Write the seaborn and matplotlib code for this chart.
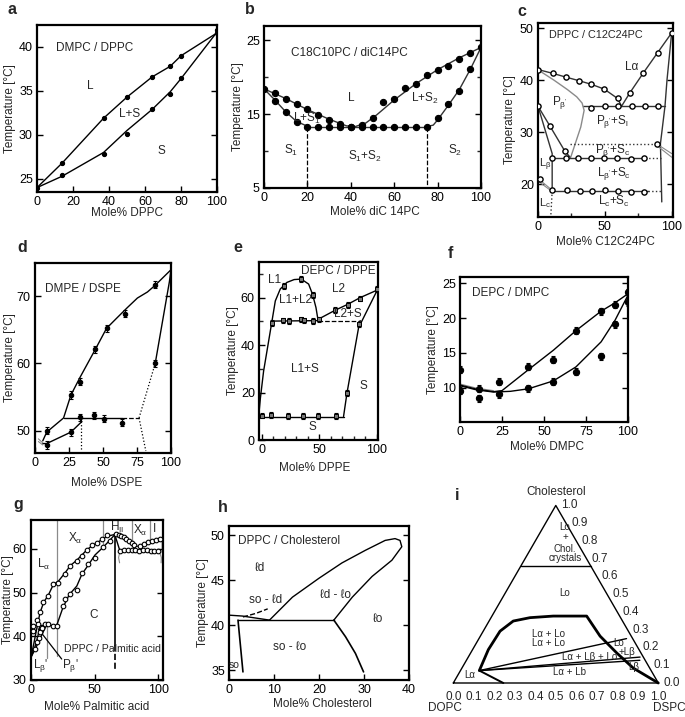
import numpy as np
import matplotlib
matplotlib.use("Agg")
import matplotlib.pyplot as plt
import seaborn as sns

# ======================= DATA =======================
# a : DMPC / DPPC
a_liq_x = [0, 14, 37, 50, 64, 74, 80, 100]
a_liq_y = [24.0, 26.8, 31.9, 34.3, 36.6, 37.8, 39.0, 41.6]
a_sol_x = [0, 14, 37, 50, 64, 74, 80, 100]
a_sol_y = [24.0, 25.4, 27.8, 30.1, 33.0, 34.7, 36.5, 41.8]
a_solc_y = [24.0, 25.3, 28.0, 30.5, 32.9, 34.9, 36.4, 41.7]

# b : C18C10PC / diC14PC
b_liq_px = [0, 5, 10, 15, 20, 25, 30, 35, 40, 45, 50, 55, 60, 65, 70, 75, 80, 85, 90, 95, 100]
b_liq_py = [18.4, 17.8, 17.0, 16.3, 15.7, 14.9, 14.2, 13.6, 13.3, 13.5, 14.5, 16.6, 17.0, 18.5,
            19.1, 20.3, 21.0, 21.5, 22.5, 23.3, 24.0]
b_liq_cx = [0, 10, 20, 30, 38, 42, 47, 52, 60, 70, 80, 90, 100]
b_liq_cy = [18.4, 17.1, 15.6, 14.3, 13.4, 13.3, 13.8, 14.9, 16.9, 19.1, 21.0, 22.6, 24.0]
b_s1_px = [5, 10, 15]
b_s1_py = [16.8, 15.3, 13.9]
b_s1_cx = [0, 5, 10, 15, 20]
b_s1_cy = [18.4, 16.9, 15.3, 14.0, 13.35]
b_flat_x = [20, 25, 30, 35, 40, 45, 50, 55, 60, 65, 70, 75]
b_flat_y = [13.3] * 12
b_s2_px = [80, 85, 90, 95]
b_s2_py = [14.5, 16.3, 18.1, 21.1]
b_s2_cx = [75, 78, 80, 85, 90, 95, 100]
b_s2_cy = [13.3, 13.5, 14.2, 16.2, 18.3, 21.0, 24.0]

# c : DPPC / C12C24PC
c_la_px = [0, 11.3, 20.8, 30.8, 40, 49.5, 59.5]
c_la_py = [42.05, 41.3, 40.6, 39.9, 39.2, 38.3, 36.5]
c_lr_px = [68.8, 78.8, 89.5, 100]
c_lr_py = [37.6, 41.4, 45.3, 49.1]
c_h35_x = [40, 50, 60, 70, 80, 90]
c_h35_y = [34.6, 35.0, 35.0, 35.0, 35.0, 35.0]
c_left_px = [0, 8.9, 20.0]
c_left_py = [35.0, 31.2, 26.4]
c_h25_x = [10.6, 21, 29.9, 39.7, 49.6, 59.4, 69.3, 79.1]
c_h25_y = [25.1, 25.1, 25.1, 25.1, 25.1, 25.1, 24.8, 25.1]
c_h18_x = [1.5, 10.6, 21.5, 31.4, 40.6, 49.9, 59.7, 69.6, 79.5]
c_h18_y = [21.1, 18.85, 18.85, 18.7, 18.7, 18.85, 18.7, 18.5, 18.5]
c_h27_x = [89.1]
c_h27_y = [27.7]

# d : DMPE / DSPE
d_up_x = [8.6, 26.4, 33.3, 44.4, 52.6, 66.0, 88.4]
d_up_y = [50.0, 55.3, 57.3, 62.1, 65.2, 67.4, 71.7]
d_lo_x = [8.6, 26.4]
d_lo_y = [47.9, 49.75]
d_h_x = [33.0, 43.2, 50.6, 64.2]
d_h_y = [52.0, 52.3, 51.8, 51.2]
d_r_x = [88.4]
d_r_y = [60.0]

# e : DEPC / DPPE
e_dome_x = [18.8, 34.2, 44.0]
e_dome_y = [65.0, 67.8, 61.2]
e_h50_x = [8.7, 18.0, 23.2, 34.2, 36.2, 44.0, 49.3]
e_h50_y = [49.4, 50.4, 50.1, 50.8, 50.4, 50.1, 50.8]
e_l2_x = [63.8, 74.8, 85.5, 100]
e_l2_y = [54.9, 56.9, 59.6, 63.5]
e_s_x = [74.0, 84.6]
e_s_y = [19.8, 48.7]
e_h10_x = [0, 8, 23, 36, 49, 64]
e_h10_y = [10.3, 10.5, 10.2, 10.2, 10.0, 10.0]

# f : DEPC / DMPC
f_x = [0, 11.5, 23.4, 40.7, 55.6, 69.0, 84.0, 92.3, 100]
f_up_y = [12.6, 9.9, 10.9, 13.0, 14.0, 18.2, 21.0, 21.9, 23.75]
f_lo_y = [9.6, 8.5, 9.1, 9.95, 10.9, 12.3, 14.5, 19.1, 22.3]
f_cu_x = [0, 10, 20, 25, 40.7, 55.6, 69, 84, 92.3, 100]
f_cu_y = [10.4, 9.8, 9.45, 9.6, 12.6, 15.4, 18.2, 21.0, 22.2, 23.5]
f_cl_x = [0, 10, 20, 30, 40.7, 55.6, 69, 84, 92.3, 100]
f_cl_y = [10.3, 9.7, 9.4, 9.5, 9.86, 11.0, 13.0, 16.6, 19.7, 23.3]

# g : DPPC / Palmitic acid
g_liq_px = [1.8, 4.5, 7.1, 9.7, 13.6, 17.5, 21.5, 26.7, 30.6, 35.9, 39.8, 43.7, 47.7, 51.6, 55.5, 59.5]
g_liq_py = [41.3, 43.8, 45.6, 47.8, 49.2, 52.0, 52.1, 54.3, 56.1, 57.3, 58.3, 59.7, 60.8, 61.3, 62.2, 63.1]
g_liq_cx = [0, 2, 4, 7, 10, 13.6, 17.5, 21.5, 27, 31, 36, 40, 44, 48, 52, 56, 60, 66]
g_liq_cy = [35.2, 38, 41, 45.3, 47.8, 49.4, 51.8, 52.6, 54.6, 56.2, 57.4, 58.6, 59.8, 60.7, 61.4, 62.2, 62.9, 63.3]
g_sol_px = [25.4, 26.7, 30.6, 35.9, 39.8, 45.0, 50.3, 56.8, 62.0]
g_sol_py = [47.0, 48.6, 49.6, 50.6, 54.4, 56.5, 57.8, 60.4, 61.8]
g_sol_cx = [20.2, 25, 30, 36, 40, 45, 50.3, 56.8, 62, 66]
g_sol_cy = [42.5, 46.5, 49.5, 51.5, 54.2, 56.3, 58.6, 60.4, 62.0, 63.3]
g_h42_x = [1.8, 5.7, 11.0, 13.1, 17.5, 20.2]
g_h42_y = [42.4, 42.7, 42.7, 42.7, 42.4, 42.4]
g_ll_x = [3.1, 4.5, 6.3, 7.1, 9.0]
g_ll_y = [37.0, 38.8, 39.7, 41.0, 42.0]
g_hu_x = [67, 69, 71, 73, 75, 77, 79, 81, 83, 86, 89, 92, 95, 98, 101]
g_hu_y = [63.4, 63.2, 62.9, 62.6, 62.2, 61.8, 61.4, 60.8, 60.3, 60.7, 61.1, 61.5, 61.9, 62.1, 62.2]
g_hl_x = [70, 73, 76, 79, 82, 85, 88, 91, 94, 97, 100]
g_hl_y = [59.6, 59.8, 59.8, 59.7, 59.8, 59.6, 59.8, 59.7, 59.5, 59.5, 59.4]

# h : DPPC / Cholesterol
h_loop_x = [9, 14.1, 20, 25.1, 30.3, 34.7, 36.9, 38.0, 38.4, 36.2, 31.8, 27.4, 23.3]
h_loop_y = [40.55, 43.1, 45.2, 46.9, 48.3, 49.4, 49.6, 49.4, 48.7, 47.2, 45.4, 43.1, 40.55]
h_lo_x = [23.3, 25.9, 28.1, 29.9]
h_lo_y = [40.55, 38.7, 36.85, 34.8]

# i : DOPC / DSPC / Cholesterol (ternary, DSPC fraction b, cholesterol fraction c)
i_bnd_b = [0.092, 0.077, 0.082, 0.118, 0.190, 0.299, 0.462, 0.584, 0.713, 0.836, 1.0]
i_bnd_c = [0.070, 0.188, 0.292, 0.349, 0.368, 0.377, 0.377, 0.264, 0.169, 0.084, 0.0]
i_la = (0.092, 0.070)
i_tie_b = [0.72, 0.838, 0.846]
i_tie_c = [0.25, 0.146, 0.128]
i_chol_crys = 0.66
i_ticks = [0.0, 0.1, 0.2, 0.3, 0.4, 0.5, 0.6, 0.7, 0.8, 0.9, 1.0]

# ======================= STYLE =======================
sns.set_theme(style="ticks")
plt.rcParams['font.family'] = ['Liberation Sans', 'DejaVu Sans']
plt.rcParams['mathtext.fontset'] = 'custom'
plt.rcParams['mathtext.rm'] = 'Liberation Sans'
plt.rcParams['mathtext.it'] = 'Liberation Sans'
plt.rcParams['mathtext.bf'] = 'Liberation Sans:bold'

W, H = 685, 717
fig = plt.figure(figsize=(W / 100, H / 100), dpi=100)
GREY = "#8a8a8a"
TS = 8.5   # text size


def add_axes(l, r, t, b):
    return fig.add_axes([l / W, 1 - b / H, (r - l) / W, (b - t) / H])


def ftext(x, y, s, **kw):
    kw.setdefault("ha", "center")
    kw.setdefault("va", "center")
    fig.text(x / W, 1 - y / H, s, **kw)


def pl(ax, xs, ys, color="black", lw=1.0, ls="-", z=2):
    sns.lineplot(x=list(xs), y=list(ys), ax=ax, sort=False, estimator=None,
                 color=color, linewidth=lw, linestyle=ls, zorder=z, legend=False)


def pts(ax, xs, ys, fill="black", edge="black", s=14, marker="o", lw=0.8, z=4):
    sns.scatterplot(x=list(xs), y=list(ys), ax=ax, color=fill, edgecolor=edge, s=s,
                    marker=marker, linewidth=lw, zorder=z, legend=False)


def ebar(ax, xs, ys, e):
    ax.errorbar(xs, ys, yerr=e, fmt="none", ecolor="black", elinewidth=0.8,
                capsize=1.6, capthick=0.8, zorder=3)


def style(ax, xlim, ylim, xt, yt, xminor=None, yminor=None, right=True):
    ax.set_xlim(*xlim)
    ax.set_ylim(*ylim)
    ax.set_xticks(xt)
    ax.set_yticks(yt)
    if xminor is not None:
        ax.set_xticks(xminor, minor=True)
    if yminor is not None:
        ax.set_yticks(yminor, minor=True)
    ax.tick_params(which="major", direction="in", length=4, width=1.0, labelsize=9,
                   right=right, top=False, pad=3, colors="black")
    ax.tick_params(which="minor", direction="in", length=3, width=1.0, right=right, top=False)
    for sp in ax.spines.values():
        sp.set_visible(True)
        sp.set_linewidth(1.6)
        sp.set_color("black")
    ax.set_xlabel("")
    ax.set_ylabel("")


def ylab(x, t, b):
    ftext(x, (t + b) / 2, "Temperature [°C]", rotation=90, fontsize=TS)


def T(ax, x, y, s, size=TS, **kw):
    kw.setdefault("ha", "center")
    kw.setdefault("va", "center")
    ax.text(x, y, s, fontsize=size, zorder=6, **kw)


# ======================= a =======================
ax = add_axes(37, 217, 25, 192)
pl(ax, a_liq_x, a_liq_y)
pl(ax, a_sol_x, a_solc_y)
pts(ax, a_liq_x[1:-1], a_liq_y[1:-1], s=9)
pts(ax, a_sol_x[1:-1], a_sol_y[1:-1], s=9)
pts(ax, [0, 100, 100], [24.0, 41.6, 41.9], s=9)
style(ax, (0, 100), (23.5, 42.5), [0, 20, 40, 60, 80, 100], [25, 30, 35, 40])
T(ax, 10.5, 39.9, "DMPC / DPPC", ha="left")
T(ax, 29.8, 35.6, "L")
T(ax, 51.5, 32.4, "L+S")
T(ax, 69.3, 28.2, "S")
ylab(10, 25, 192)
ftext(127, 213, "Mole% DPPC", fontsize=TS)

# ======================= b =======================
ax = add_axes(264, 481, 26, 188)
pl(ax, b_liq_cx, b_liq_cy, color="#333333")
pl(ax, b_s1_cx, b_s1_cy, color="#333333")
pl(ax, [20, 75], [13.3, 13.3], color="#333333")
pl(ax, b_s2_cx, b_s2_cy, color="#333333")
pl(ax, [20, 20], [13.3, 5], ls="--", lw=0.9)
pl(ax, [75, 75], [13.3, 5], ls="--", lw=0.9)
pts(ax, b_liq_px, b_liq_py, s=20)
pts(ax, b_s1_px, b_s1_py, s=20)
pts(ax, b_flat_x, b_flat_y, s=20)
pts(ax, b_s2_px, b_s2_py, s=20)
style(ax, (0, 100), (5, 26.9), [0, 20, 40, 60, 80, 100], [5, 15, 25], yminor=[10, 20])
T(ax, 12.6, 23.2, "C18C10PC / diC14PC", ha="left")
T(ax, 40.3, 17.1, "L")
T(ax, 74.2, 17.1, r"L+S$_2$")
T(ax, 19.5, 14.4, r"L+S$_1$")
T(ax, 12.6, 10.1, r"S$_1$")
T(ax, 46.5, 9.2, r"S$_1$+S$_2$")
T(ax, 88.0, 10.1, r"S$_2$")
ylab(238, 26, 188)
ftext(375, 212, "Mole% diC 14PC", fontsize=TS)

# ======================= c =======================
ax = add_axes(538, 673, 23, 217)
pl(ax, c_la_px + [62.5], c_la_py + [35.0], color="#333333")
pl(ax, [62.5] + c_lr_px, [35.0] + c_lr_py, color="#333333")
pl(ax, [100, 96.5, 95, 91.6, 92.6], [49.1, 40, 35, 27.8, 16.6], color="#333333")
pl(ax, [34, 95], [35, 35], color="#333333")
pl(ax, [0, 12, 22, 29, 33, 34.5, 32, 24.5], [42, 40, 38.2, 36.8, 35.6, 34.2, 31, 25.2], color=GREY)
pl(ax, [0, 8.9, 20, 24], [35, 31.2, 26.4, 25.2], color="#333333")
pl(ax, [0, 10.6, 10.6], [35, 25.9, 18.85], color="#333333")
pl(ax, [10.6, 80], [25.1, 25.1], color="#333333")
pl(ax, [80, 92], [25.1, 25.1], ls=":", color="#333333")
pl(ax, [23.7, 89], [27.7, 27.7], ls=":", color="#333333")
pl(ax, [89.1, 100], [27.7, 25.9], color=GREY, lw=0.8)
pl(ax, [89.1, 100], [27.4, 25.2], color=GREY, lw=0.8)
pl(ax, [0, 10.6], [21.1, 18.85], color=GREY, lw=0.8)
pl(ax, [0, 10.6], [20.6, 18.6], color=GREY, lw=0.8)
pl(ax, [10.6, 82], [18.7, 18.7], color="#333333")
pl(ax, [82, 92.5], [18.7, 18.7], ls=":", color="#333333")
pl(ax, [10.6, 9.6], [18.7, 14.0], ls=":", color="#333333")
for xs, ys in [(c_la_px, c_la_py), (c_lr_px, c_lr_py), (c_h35_x, c_h35_y), (c_left_px, c_left_py),
               (c_h25_x, c_h25_y), (c_h18_x, c_h18_y), (c_h27_x, c_h27_y)]:
    pts(ax, xs, ys, fill="white", s=14, lw=1.0)
style(ax, (0, 101), (13.7, 51), [0, 50, 100], [20, 30, 40, 50], xminor=[25, 75])
T(ax, 8.5, 48.6, "DPPC / C12C24PC", size=7.8, ha="left")
T(ax, 70.0, 42.6, "Lα")
T(ax, 16.3, 35.8, r"$\mathregular{P_{\beta'}}$")
T(ax, 55.8, 32.0, r"$\mathregular{P_{\beta'}{+}S_l}$")
T(ax, 55.8, 26.5, r"$\mathregular{P_{\beta'}{+}S_c}$")
T(ax, 57.0, 22.0, r"$\mathregular{L_{\beta'}{+}S_c}$")
T(ax, 5.6, 23.8, r"$\mathregular{L_{\beta'}}$", size=8)
T(ax, 5.2, 16.4, r"$\mathregular{L_c}$", size=8)
T(ax, 57.0, 16.6, r"$\mathregular{L_c{+}S_c}$")
ylab(510, 23, 217)
ftext(605, 242, "Mole% C12C24PC", fontsize=TS)

# ======================= d =======================
ax = add_axes(35, 171, 263, 453)
pl(ax, [5.7, 8.6, 21, 26.4, 33.3, 44.4, 52.6, 60, 68, 75.3, 82.7, 88.4, 100],
   [48.5, 49.8, 51.9, 55.3, 58.0, 62.1, 65.2, 66.7, 68.3, 69.7, 70.6, 71.6, 73.9])
pl(ax, [5.7, 8.6, 26.4, 34.1, 34.1], [48.1, 48.1, 49.8, 51.3, 51.9])
pl(ax, [21, 64], [51.9, 51.9])
pl(ax, [64, 76.5], [51.9, 51.9], ls="--", lw=0.9)
pl(ax, [34.1, 34.1], [51.9, 47.0], ls=":", lw=0.9)
pl(ax, [76.5, 88.4], [51.9, 60.0], ls=":", lw=0.9)
pl(ax, [88.4, 98.8, 100], [60.0, 72.1, 73.9])
pl(ax, [76.5, 81.5], [51.9, 47.0], ls=":", lw=0.9)
pl(ax, [2.5, 5.7], [48.8, 48.2], color=GREY, lw=0.8)
pl(ax, [2.5, 5.7], [48.4, 47.9], color=GREY, lw=0.8)
for xs, ys in [(d_up_x, d_up_y), (d_lo_x, d_lo_y), (d_h_x, d_h_y), (d_r_x, d_r_y)]:
    ebar(ax, xs, ys, 0.55)
    pts(ax, xs, ys, s=10)
style(ax, (0, 100), (46.7, 74.9), [0, 25, 50, 75, 100], [50, 60, 70])
T(ax, 7.4, 71.1, "DMPE / DSPE", ha="left")
ylab(10, 263, 453)
ftext(107, 483, "Mole% DSPE", fontsize=TS)

# ======================= e =======================
ax = add_axes(259, 378, 262, 440)
pl(ax, [-2.9, -1.4, 1.4, 5.8, 8.7, 11.6, 15.9, 21.7, 28, 34.2, 40.6, 44.0, 47.0, 48.7],
   [9.9, 17.6, 29.0, 41.7, 50.1, 58.6, 63.6, 66.4, 67.6, 67.8, 65.7, 61.4, 55.8, 50.8])
pl(ax, [8.7, 49], [50.1, 50.3])
pl(ax, [49, 85.5], [50.3, 50.3], ls="--", lw=0.9)
pl(ax, [48.7, 63.8, 74.8, 85.5, 100], [50.8, 54.7, 57.2, 60.0, 63.1])
pl(ax, [85.5, 100], [48.7, 62.8])
pl(ax, [71, 74, 84.6, 85.5], [9.9, 19.8, 48.7, 50.3])
pl(ax, [-2.6, 71], [9.9, 9.9])
for xs, ys in [(e_dome_x, e_dome_y), (e_h50_x, e_h50_y), (e_l2_x, e_l2_y), (e_s_x, e_s_y), (e_h10_x, e_h10_y)]:
    ebar(ax, xs, ys, 1.2)
    pts(ax, xs, ys, marker="s", fill="#777777", s=10, lw=0.7)
style(ax, (-2.6, 101), (0, 75), [0, 50, 100], [0, 20, 40, 60],
      xminor=[10, 20, 30, 40, 60, 70, 80, 90], yminor=[10, 30, 50, 70], right=False)
T(ax, 99, 71.3, "DEPC / DPPE", ha="right")
T(ax, 11.0, 67.4, "L1")
T(ax, 66.7, 63.6, "L2")
T(ax, 29.0, 58.9, "L1+L2")
T(ax, 75.0, 53.2, "L2+S")
T(ax, 37.7, 30.0, "L1+S")
T(ax, 88.4, 22.6, "S")
T(ax, 44.0, 5.4, "S")
ylab(233, 262, 440)
ftext(315, 468, "Mole% DPPE", fontsize=TS)

# ======================= f =======================
ax = add_axes(460, 628, 277, 422)
pl(ax, f_cu_x[:3], [10.55, 9.95, 9.6], color=GREY, lw=0.8)
pl(ax, f_cu_x, f_cu_y)
pl(ax, f_cl_x, f_cl_y)
ebar(ax, f_x, f_up_y, 0.5)
ebar(ax, f_x, f_lo_y, 0.5)
pts(ax, f_x, f_up_y, s=20)
pts(ax, f_x, f_lo_y, s=20)
style(ax, (0, 100), (5.1, 25.9), [0, 25, 50, 75, 100], [10, 15, 20, 25])
T(ax, 7, 23.6, "DEPC / DMPC", ha="left")
ylab(433, 277, 422)
ftext(547, 447, "Mole% DMPC", fontsize=TS)

# ======================= g =======================
ax = add_axes(31, 163, 520, 680)
for xv, y0, y1 in [(20.2, 66.6, 42.7), (56.8, 66.6, 61.0), (79.0, 66.6, 61.5), (93.5, 66.6, 62.0),
                   (12.3, 42.7, 35.0), (20.2, 42.5, 35.5)]:
    pl(ax, [xv, xv], [y0, y1], color=GREY, lw=0.9)
pl(ax, [66, 66], [63.3, 38.0], lw=1.2)
pl(ax, [66, 66], [38.0, 32.0], lw=1.2, ls="--")
pl(ax, g_liq_cx, g_liq_cy)
pl(ax, g_sol_cx, g_sol_cy)
pl(ax, [0, 20.2], [42.5, 42.5])
pl(ax, [0, 3, 5, 7.1], [35.2, 37.5, 39.5, 42.4])
pl(ax, [0, 4, 8, 12.3], [35.2, 37.5, 40, 42.7])
pl(ax, [5.7, 24.1], [41.7, 34.8], lw=0.9)
pl(ax, [66, 72.5, 79, 83, 88.2, 93.5, 98.7, 102.6], [63.1, 62.8, 61.5, 60.2, 61.1, 61.6, 62.1, 62.1])
pl(ax, [66, 69.9, 101], [63.1, 59.5, 59.3])
pl(ax, [102.6, 102.6], [62.1, 59.3])
pl(ax, [69.9, 68.8, 69.6], [59.5, 58.0, 56.8], color=GREY, lw=0.8)
pl(ax, [101, 102.4, 102.2], [59.3, 58.0, 56.8], color=GREY, lw=0.8)
for xs, ys in [(g_liq_px, g_liq_py), (g_sol_px, g_sol_py), (g_h42_x, g_h42_y), (g_ll_x, g_ll_y),
               (g_hu_x, g_hu_y), (g_hl_x, g_hl_y)]:
    pts(ax, xs, ys, fill="white", s=11, lw=0.8)
style(ax, (0, 103.7), (30, 66.6), [0, 50, 100], [30, 40, 50, 60])
T(ax, 9.7, 56.4, r"$\mathregular{L_{\alpha}}$")
T(ax, 34.6, 62.3, r"$\mathregular{X_{\alpha}}$")
T(ax, 67.3, 64.9, r"$\mathregular{H_{II}}$")
T(ax, 85.6, 64.3, r"$\mathregular{X_{\alpha}}$")
T(ax, 97.4, 64.5, "I")
T(ax, 49.0, 44.9, "C")
T(ax, 25.9, 37.0, "DPPC / Palmitic acid", ha="left", size=7.6)
T(ax, 1.5, 33.4, r"$\mathregular{L_{\beta}}$'", ha="left")
T(ax, 30.6, 33.4, r"$\mathregular{P_{\beta}}$'")
ylab(8, 520, 680)
ftext(97, 707, "Mole% Palmitic acid", fontsize=TS)

# ======================= h =======================
ax = add_axes(229, 409, 526, 680)
pl(ax, h_loop_x, h_loop_y)
pl(ax, [0, 3, 9], [41.1, 41.0, 40.55])
pl(ax, [2.0, 23.3], [40.55, 40.55])
pl(ax, [3.1, 6, 8.6], [40.9, 41.3, 41.8], ls="--", lw=1.0)
pl(ax, [2.0, 3.1], [40.55, 34.8], lw=1.2)
pl(ax, h_lo_x, h_lo_y, lw=1.2)
style(ax, (0, 40), (33.9, 51.0), [0, 10, 20, 30, 40], [35, 40, 45, 50])
T(ax, 2.0, 49.3, "DPPC / Cholesterol", ha="left")
T(ax, 6.8, 46.3, "ℓd")
T(ax, 8.2, 42.8, "so - ℓd")
T(ax, 23.7, 43.3, "ℓd - ℓo")
T(ax, 33.2, 40.7, "ℓo")
T(ax, 13.4, 37.6, "so - ℓo")
T(ax, 1.25, 35.6, "so", size=7.5)
ylab(203, 526, 680)
ftext(322, 704, "Mole% Cholesterol", fontsize=TS)

# ======================= i (ternary) =======================
ax = add_axes(440, 685, 485, 717)
ax.set_xlim((440 - 453.3) / 205, (685 - 453.3) / 205)
ax.set_ylim((683 - 717) / 205, (683 - 485) / 205)
ax.set_aspect("equal", adjustable="box")
ax.axis("off")
S3 = np.sqrt(3) / 2


def tx(b, c):
    b = np.asarray(b, float)
    c = np.asarray(c, float)
    return b + c / 2, c * S3


X, Y = tx([0, 1, 0, 0], [0, 0, 1, 0])
pl(ax, X, Y, lw=1.0)
X, Y = tx([0, 1 - i_chol_crys], [i_chol_crys, i_chol_crys])
pl(ax, X, Y, lw=1.0)
X, Y = tx(i_bnd_b, i_bnd_c)
pl(ax, X, Y, lw=2.0)
X, Y = tx([i_la[0], 0.244], [i_la[1], 0.0])
pl(ax, X, Y, lw=1.4)
for tb, tc in zip(i_tie_b, i_tie_c):
    X, Y = tx([i_la[0], tb], [i_la[1], tc])
    pl(ax, X, Y, lw=1.0)
for v in i_ticks:
    ax.text(v, -0.067, f"{v:.1f}", ha="center", va="center", fontsize=8.5)
    xr, yr = tx(1 - v, v)
    ax.text(xr + 0.025, yr, f"{v:.1f}", ha="left", va="center", fontsize=8.5)
ax.text(0.504, 0.93, "Cholesterol", ha="center", va="center", fontsize=8.5)
ax.text(-0.04, -0.123, "DOPC", ha="center", va="center", fontsize=8.5)
ax.text(1.056, -0.123, "DSPC", ha="center", va="center", fontsize=8.5)
for x_, y_, s_ in [(0.545, 0.760, "Lo"), (0.545, 0.711, "+"), (0.545, 0.656, "Chol."),
                   (0.545, 0.608, "crystals"), (0.545, 0.438, "Lo"),
                   (0.463, 0.240, "Lα + Lo"), (0.463, 0.197, "Lα + Lo"),
                   (0.667, 0.128, "Lα + Lβ + Lo"), (0.805, 0.197, "Lo"),
                   (0.846, 0.153, "+Lβ"), (0.878, 0.080, "Lβ"),
                   (0.569, 0.055, "Lα + Lb"), (0.081, 0.039, "Lα")]:
    ax.text(x_, y_, s_, ha="center", va="center", fontsize=7)

# ======================= panel letters =======================
for x_, y_, s_ in [(12, 10, "a"), (250, 10, "b"), (522, 12, "c"), (22, 248, "d"),
                   (238, 248, "e"), (450, 253, "f"), (18, 505, "g"), (223, 508, "h"),
                   (457, 495, "i")]:
    ftext(x_, y_, s_, fontsize=11.5, fontweight="bold")

fig.savefig("out.png", dpi=100, facecolor="white")
